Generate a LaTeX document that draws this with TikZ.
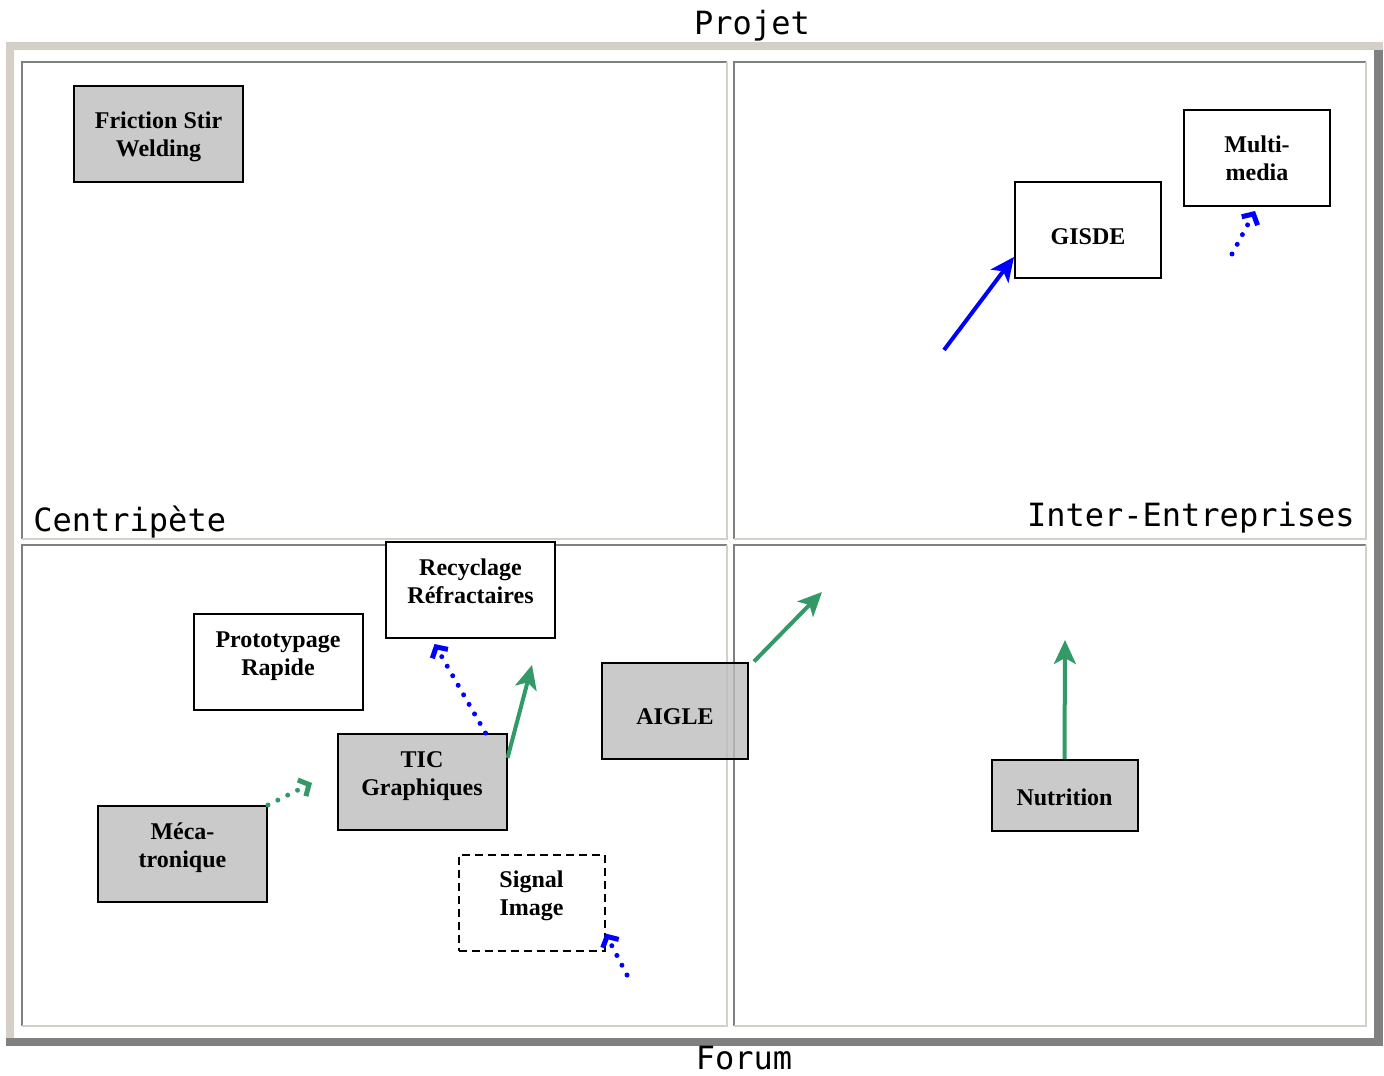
\documentclass[tikz,border=0pt]{standalone}
\usepackage{fontspec}
\setmainfont{Liberation Serif}
\newfontfamily\labelfont{DejaVu Sans Mono}
\usetikzlibrary{arrows.meta}
\definecolor{frameLight}{HTML}{D4D0C8}
\definecolor{frameDark}{HTML}{808080}
\definecolor{moveGreen}{HTML}{339966}
\definecolor{boxGrey}{HTML}{CACACA}

\begin{document}
\begin{tikzpicture}[x=0.5pt, y=-0.5pt,
        box/.style={rectangle, draw, line width=1pt, fill=white, inner sep=0pt,
            minimum width=84.5pt, minimum height=48pt},
        small box/.style={box, minimum width=73pt},
        grey/.style={fill=boxGrey},
        caption/.style={align=center, inner sep=0pt, font=\bfseries\fontsize{12}{14}\selectfont},
        quadrant label/.style={inner sep=0pt, font=\labelfont\fontsize{16}{18}\selectfont},
        move/.style={line width=2pt, -{Stealth[length=12pt, width=11pt, inset=3pt]}},
        trend/.style={line width=2.5pt, dash pattern=on 0pt off 5.5pt, line cap=round,
            -{Straight Barb[length=4pt, width=9pt, line width=2.5pt]}}
    ]
        \useasboundingbox (0,0) rectangle (1384,1075);

        % cadre
        \fill[frameLight] (6,42) rectangle (1383,50);
        \fill[frameLight] (6,42) rectangle (14,1038);
        \fill[frameDark] (1374,50) rectangle (1383,1046);
        \fill[frameDark] (6,1038) rectangle (1383,1046);

        % quadrants
        \foreach \xa/\ya/\xb/\yb in {22/62/727/539, 734/62/1366/539, 22/545/727/1026, 734/545/1366/1026} {
            \draw[frameDark, line width=0.7pt] (\xa,\yb) |- (\xb,\ya);
            \draw[frameLight, line width=0.7pt] (\xa,\yb) -| (\xb,\ya);
        }

        \node[quadrant label, anchor=base] (projet) at (752,35) {Projet};
        \node[quadrant label, anchor=base] (forum) at (744,1069) {Forum};
        \node[quadrant label, anchor=base west] (centripete) at (33,531) {Centripète};
        \node[quadrant label, anchor=base east] (interentreprises) at (1355,526) {Inter-Entreprises};

        % projets
        \node[box, grey, label={[caption, yshift=-1.5pt]center:Friction Stir\\Welding}] (fsw) at (158.5,134) {};
        \node[small box, label={[caption, yshift=-3.5pt]center:GISDE}] (gisde) at (1088,230) {};
        \node[small box, label={[caption]center:Multi-\\media}] (multimedia) at (1257,158) {};
        \node[box, label={[caption, yshift=4.5pt]center:Recyclage\\Réfractaires}] (recyclage) at (470.5,590) {};
        \node[box, label={[caption, yshift=2.5pt]center:Prototypage\\Rapide}] (prototypage) at (278,661.5) {};
        \node[box, grey, label={[caption, yshift=3pt]center:TIC\\Graphiques}] (tic) at (422,782) {};
        \node[small box, fill=black!26, fill opacity=0.8, label={[caption, yshift=-3pt]center:AIGLE}] (aigle) at (675,710.5) {};
        \node[box, grey, label={[caption, yshift=3pt]center:Méca-\\tronique}] (meca) at (182.5,854) {};
        \node[small box, dash pattern=on 4pt off 2.5pt, label={[caption, yshift=3.5pt]center:Signal\\Image}] (signal) at (531.5,902.5) {};
        \node[small box, grey, minimum height=35.5pt, label={[caption, yshift=-1pt]center:Nutrition}] (nutrition) at (1064.5,795.5) {};

        % tendances
        \coordinate (gisdeFrom) at (944,350);
        \coordinate (mmFrom) at (1232,254);
        \coordinate (ticTo) at (532,665);
        \coordinate (mecaTo) at (312,783);
        \coordinate (aigleTo) at (822,592);
        \coordinate (nutritionTo) at (1065,640);
        \coordinate (signalFrom) at (627,975);

        \draw[move, blue] (gisdeFrom) -- (gisde.200);
        \draw[trend, blue] (mmFrom) -- ([xshift=-1pt, yshift=-2pt]multimedia.south);
        \draw[trend, blue] ([xshift=-11pt]tic.north east) -- ([xshift=-18pt, yshift=-2.5pt]recyclage.south);
        \draw[move, moveGreen] ([yshift=12pt]tic.east) -- (ticTo);
        \draw[trend, moveGreen] (meca.north east) -- (mecaTo);
        \draw[move, moveGreen] ([xshift=2.5pt]aigle.north east) -- (aigleTo);
        \draw[move, moveGreen] (nutrition.north) -- (nutritionTo);
        \draw[trend, blue] (signalFrom) -- ([yshift=9pt]signal.south east);
    \end{tikzpicture}
\end{document}
